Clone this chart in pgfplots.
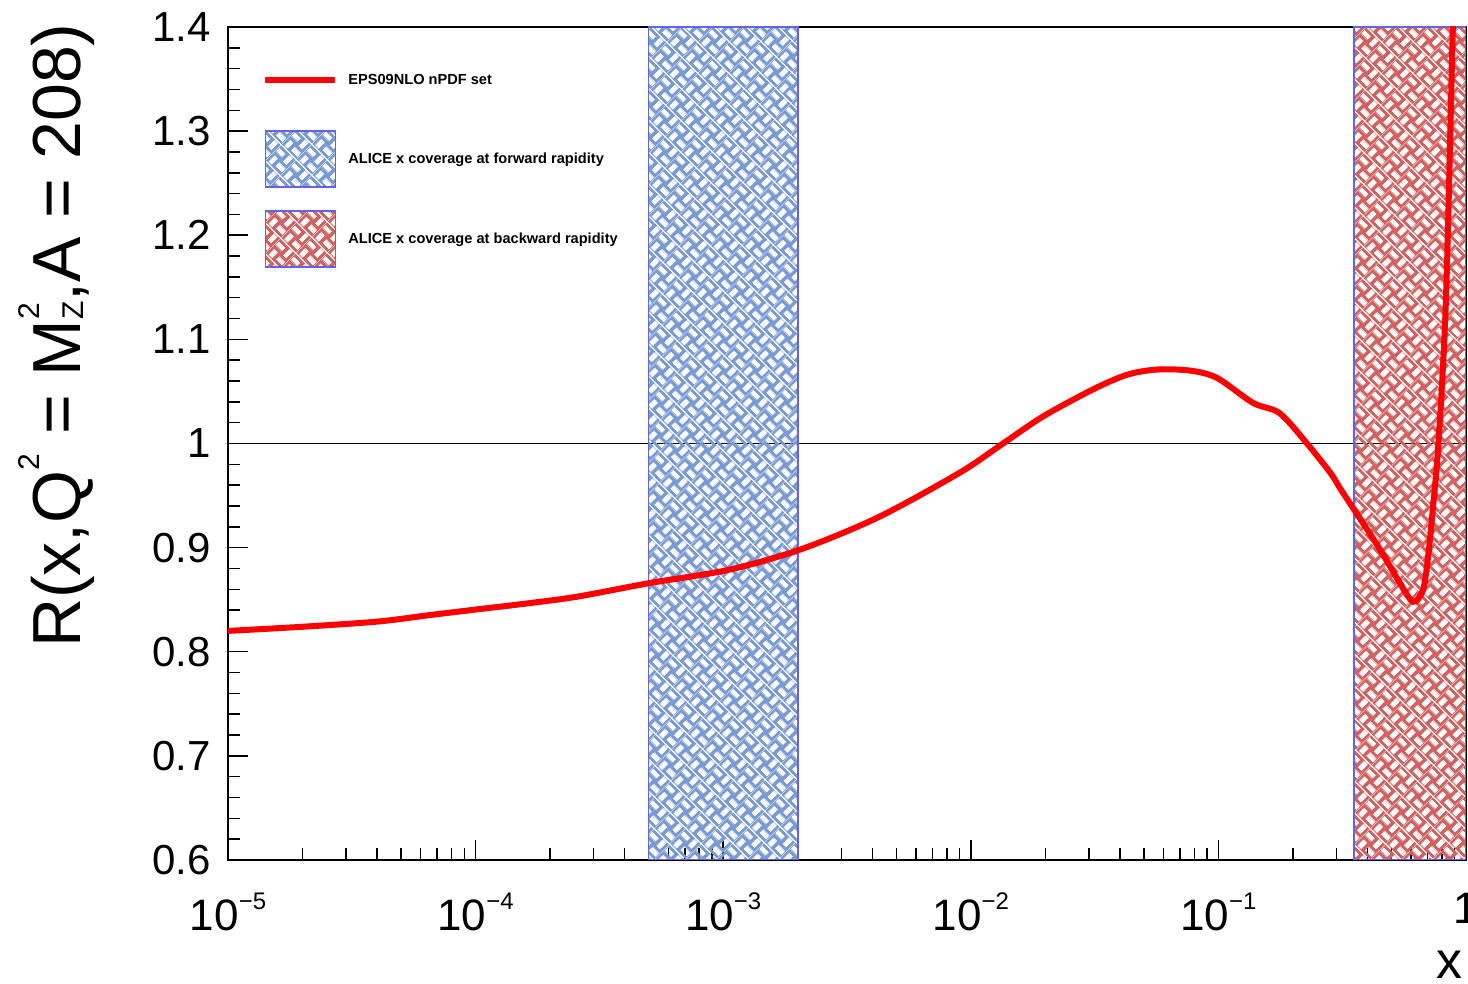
\documentclass[border=0pt]{standalone}
\usepackage{fontspec}
\setmainfont{Liberation Sans}
\usepackage{pgfplots}
\pgfplotsset{compat=1.18}
\usetikzlibrary{patterns.meta}
\definecolor{bandblue}{RGB}{122,154,212}
\definecolor{bandred}{RGB}{208,98,98}
\definecolor{bandborder}{RGB}{100,100,220}
\tikzdeclarepattern{
  name=weave,
  type=uncolored,
  bounding box={(0pt,0pt) and (11pt,11pt)},
  tile size={(11pt,11pt)},
  tile transformation={rotate=45},
  code={
    \fill[even odd rule] (0pt,0pt) rectangle (11pt,11pt)
      (0.45pt,6.95pt) rectangle (5.05pt,9.55pt)
      (5.95pt,1.45pt) rectangle (10.55pt,4.05pt)
      (6.95pt,5.95pt) rectangle (9.55pt,10.55pt)
      (1.45pt,0.45pt) rectangle (4.05pt,5.05pt);
  }
}
\newcommand{\sups}[1]{\raisebox{0.6em}{\fontsize{15}{15}\selectfont #1}}
\newcommand{\xsup}[1]{10\raisebox{10.5pt}{\fontsize{12}{12}\selectfont #1}}
\pgfplotstableread{
x y
1e-5 0.820
2.01e-5 0.824
4.04e-5 0.829
6.43e-5 0.835
1.0e-4 0.8405
1.63e-4 0.8465
2.59e-4 0.853
5.06e-4 0.866
1.045e-3 0.8785
2.04e-3 0.898
4.22e-3 0.929
9.03e-3 0.972
1.35e-2 1.000
1.96e-2 1.026
3.12e-2 1.052
4.28e-2 1.066
5.65e-2 1.071
7.68e-2 1.070
9.87e-2 1.063
0.138 1.039
0.177 1.029
0.228 1.000
0.283 0.972
0.310 0.957
0.350 0.938
0.373 0.928
0.450 0.898
0.541 0.866
0.611 0.848
0.670 0.859
0.703 0.891
0.736 0.939
0.774 1.000
0.830 1.138
0.885 1.400
0.928 1.590
}\curve
\begin{document}
\begin{tikzpicture}
\begin{axis}[
  name=ax,
  scale only axis,
  width=619pt, height=416.5pt,
  xmode=log,
  xmin=1e-5, xmax=1,
  ymin=0.6, ymax=1.4,
  xtick={1e-5,1e-4,1e-3,1e-2,1e-1,1},
  xticklabels={\xsup{−5},\xsup{−4},\xsup{−3},\xsup{−2},\xsup{−1},1},
  ytick={0.6,0.7,0.8,0.9,1,1.1,1.2,1.3,1.4},
  yticklabels={0.6,0.7,0.8,0.9,1,1.1,1.2,1.3,1.4},
  minor y tick num=4,
  tick pos=left,
  tick align=inside,
  major tick length=10pt,
  minor tick length=6pt,
  axis line style={line width=1pt},
  every tick/.style={black, line width=0.75pt},
  xticklabel style={font=\fontsize{22}{22}\selectfont, yshift=-13pt},
  yticklabel style={font=\fontsize{21}{21}\selectfont, xshift=-5pt},
  ylabel={R(x,Q\sups{2} = M\rlap{\sups{2}}\raisebox{-0.05em}{\fontsize{15}{15}\selectfont Z},A = 208)},
  every axis y label/.style={at={(axis description cs:-0.1195,1.0048)}, anchor=base east, rotate=90, inner sep=0pt, font=\fontsize{34}{34}\selectfont},
  xlabel={x},
  every axis x label/.style={at={(axis description cs:0.9975,-0.1417)}, anchor=base east, inner sep=0pt, font=\fontsize{26}{26}\selectfont},
  legend style={at={(axis description cs:0,1)}, anchor=north west, xshift=17pt, yshift=-12.5pt,
    draw=none, fill=none, inner sep=0pt, row sep=11pt, column sep=5pt,
    font=\fontsize{7.3}{8}\selectfont\bfseries,
    nodes={inner sep=0pt}},
  legend cell align=left,
]
\addlegendimage{legend image code/.code={
  \path[draw=none,fill=none] (0pt,-13.5pt) rectangle (35pt,14.5pt);
  \draw[red, line width=3pt] (0pt,0.5pt) -- (35pt,0.5pt);}}
\addlegendentry{EPS09NLO nPDF set}
\addlegendimage{legend image code/.code={
  \draw[draw=bandborder, line width=0.8pt, pattern=weave, pattern color=bandblue] (0pt,-13.5pt) rectangle (35pt,14.5pt);}}
\addlegendentry{ALICE x coverage at forward rapidity}
\addlegendimage{legend image code/.code={
  \draw[draw=bandborder, line width=0.8pt, pattern=weave, pattern color=bandred] (0pt,-13.5pt) rectangle (35pt,14.5pt);}}
\addlegendentry{ALICE x coverage at backward rapidity}

\addplot[forget plot, black, line width=0.9pt] coordinates {(1e-5,1) (1,1)};
\addplot[forget plot, draw=bandborder, line width=0.8pt, pattern=weave, pattern color=bandblue]
  coordinates {(5e-4,0.6) (5e-4,1.4) (2e-3,1.4) (2e-3,0.6)} -- cycle;
\addplot[forget plot, draw=bandborder, line width=0.8pt, pattern=weave, pattern color=bandred]
  coordinates {(0.352,0.6) (0.352,1.4) (1,1.4) (1,0.6)} -- cycle;
\addplot[forget plot, red, line width=3pt, smooth, tension=0.5] table[x=x,y=y] {\curve};
\end{axis}
\pgfresetboundingbox
\path[use as bounding box] ([xshift=-114pt,yshift=-62pt]ax.south west) rectangle ([xshift=1pt,yshift=13.5pt]ax.north east);
\end{tikzpicture}
\end{document}
